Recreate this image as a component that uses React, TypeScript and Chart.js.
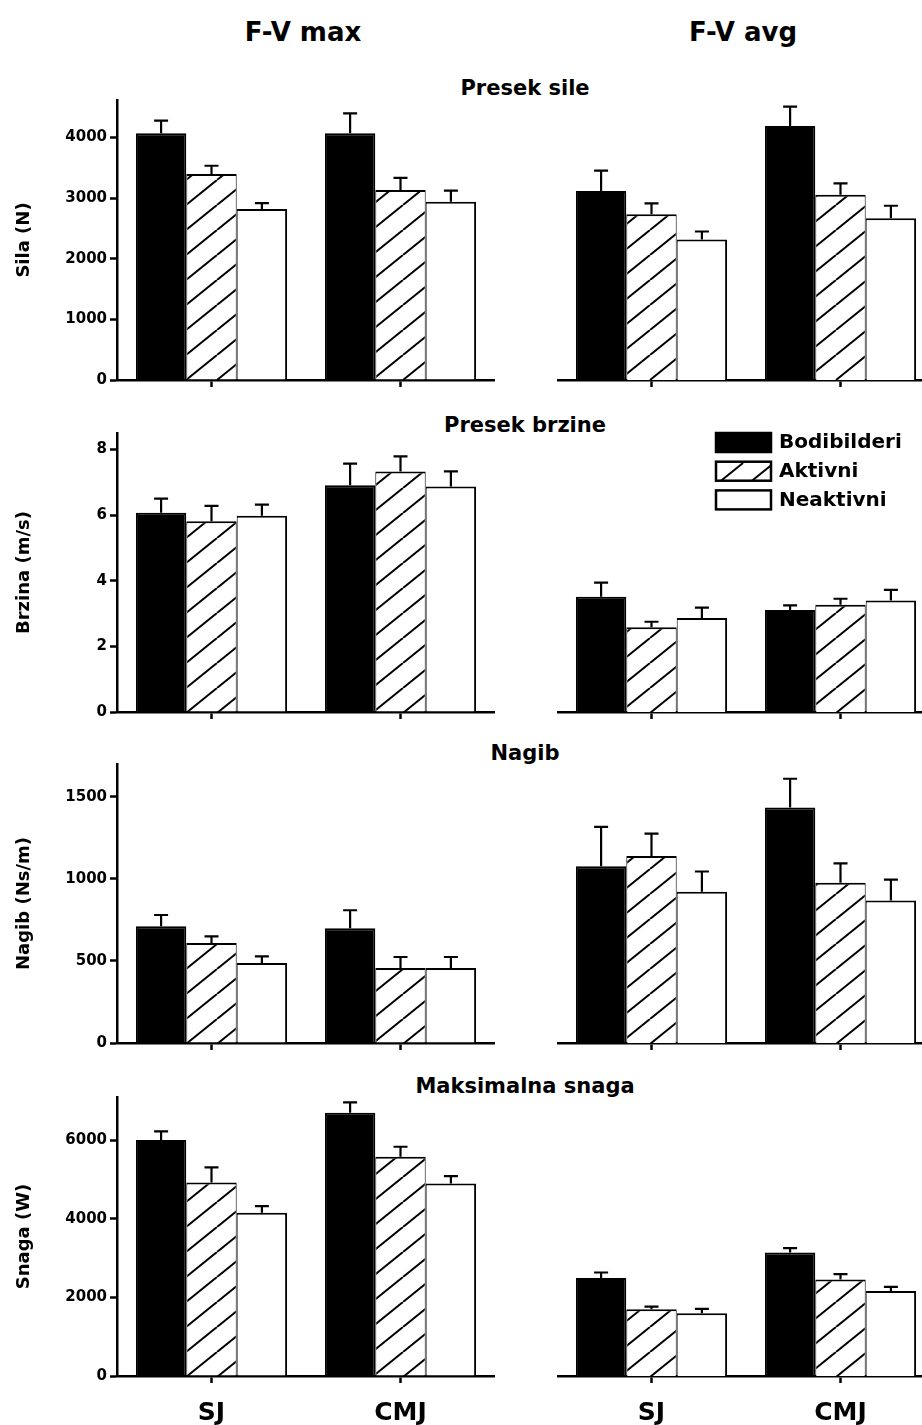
import React, { useEffect, useRef } from 'react';
import { Chart, registerables } from 'chart.js';

Chart.register(...registerables);

// ---------------- data ----------------
const categories = ['SJ', 'CMJ'];
const groups = ['Bodibilderi', 'Aktivni', 'Neaktivni'];
const columnTitles = ['F-V max', 'F-V avg'];
const rowTitles = ['Presek sile', 'Presek brzine', 'Nagib', 'Maksimalna snaga'];
const yAxisTitles = ['Sila (N)', 'Brzina (m/s)', 'Nagib (Ns/m)', 'Snaga (W)'];
const yMax = [4620, 8.5, 1700, 7100];
const silaTicks = [0, 1000, 2000, 3000, 4000];
const brzinaTicks = [0, 2, 4, 6, 8];
const nagibTicks = [0, 500, 1000, 1500];
const snagaTicks = [0, 2000, 4000, 6000];
const yTicks = [silaTicks, brzinaTicks, nagibTicks, snagaTicks];

// rows = groups (Bodibilderi, Aktivni, Neaktivni), columns = categories (SJ, CMJ)
const presekSileMaxMean = [[4070, 4070], [3400, 3135], [2820, 2940]];
const presekSileMaxErr = [[210, 330], [135, 200], [100, 185]];
const presekSileAvgMean = [[3120, 4190], [2735, 3055], [2320, 2670]];
const presekSileAvgErr = [[335, 320], [180, 190], [130, 205]];

const presekBrzineMaxMean = [[6.07, 6.91], [5.81, 7.33], [5.98, 6.87]];
const presekBrzineMaxErr = [[0.43, 0.66], [0.47, 0.46], [0.34, 0.46]];
const presekBrzineAvgMean = [[3.51, 3.11], [2.58, 3.27], [2.86, 3.4]];
const presekBrzineAvgErr = [[0.43, 0.14], [0.17, 0.18], [0.32, 0.32]];

const nagibMaxMean = [[711, 699], [610, 457], [488, 457]];
const nagibMaxErr = [[69, 110], [40, 67], [40, 67]];
const nagibAvgMean = [[1077, 1435], [1140, 976], [921, 868]];
const nagibAvgErr = [[240, 175], [136, 119], [124, 128]];

const snagaMaxMean = [[6005, 6700], [4927, 5580], [4153, 4901]];
const snagaMaxErr = [[221, 265], [382, 254], [170, 187]];
const snagaAvgMean = [[2497, 3144], [1699, 2455], [1597, 2166]];
const snagaAvgErr = [[137, 109], [68, 136], [110, 102]];

const panelMeans = [
  [presekSileMaxMean, presekSileAvgMean],
  [presekBrzineMaxMean, presekBrzineAvgMean],
  [nagibMaxMean, nagibAvgMean],
  [snagaMaxMean, snagaAvgMean],
];
const panelErrs = [
  [presekSileMaxErr, presekSileAvgErr],
  [presekBrzineMaxErr, presekBrzineAvgErr],
  [nagibMaxErr, nagibAvgErr],
  [snagaMaxErr, snagaAvgErr],
];

// ---------------- layout / style ----------------
const FONT = "'DejaVu Sans', 'Liberation Sans', sans-serif";
const PLOT_LEFT = [117, 557];
const PLOT_WIDTH = 378;
const Y_AXIS_W = 117;
const PLOT_TOP = [100, 433, 764, 1097];
const PLOT_H = [280, 279, 279, 279];
const PAD_TOP = 20;
const PAD_BOTTOM = 14;
const LEGEND_DX = 159;
const LEGEND_ROW = 28.7;

function makeHatch(): CanvasPattern | string {
  const w = 31;
  const h = 25;
  const c = document.createElement('canvas');
  c.width = w;
  c.height = h;
  const ctx = c.getContext('2d');
  if (!ctx) return '#ffffff';
  ctx.fillStyle = '#ffffff';
  ctx.fillRect(0, 0, w, h);
  ctx.strokeStyle = '#000000';
  ctx.lineWidth = 2;
  for (const dx of [-w, 0, w]) {
    ctx.beginPath();
    ctx.moveTo(dx, h);
    ctx.lineTo(dx + w, 0);
    ctx.stroke();
  }
  return ctx.createPattern(c, 'repeat') || '#ffffff';
}

const errorBarPlugin = {
  id: 'errorBars',
  afterDatasetsDraw(chart: any) {
    const ctx = chart.ctx;
    const yScale = chart.scales.y;
    chart.data.datasets.forEach((ds: any, i: number) => {
      const meta = chart.getDatasetMeta(i);
      const errs = ds.errors;
      if (!errs) return;
      meta.data.forEach((el: any, j: number) => {
        const v = ds.data[j];
        const yE = yScale.getPixelForValue(v + errs[j]);
        ctx.save();
        ctx.strokeStyle = '#000';
        ctx.lineWidth = 2.2;
        ctx.beginPath();
        ctx.moveTo(el.x, el.y);
        ctx.lineTo(el.x, yE);
        ctx.moveTo(el.x - 7, yE);
        ctx.lineTo(el.x + 7, yE);
        ctx.stroke();
        ctx.restore();
      });
    });
  },
};

const hatchLegendPlugin = {
  id: 'hatchLegend',
  afterDraw(chart: any) {
    const { ctx, chartArea } = chart;
    const x0 = chartArea.left + LEGEND_DX;
    const y0 = chartArea.top;
    chart.data.datasets.forEach((ds: any, i: number) => {
      const y = y0 + i * LEGEND_ROW;
      ctx.save();
      ctx.fillStyle = ds.backgroundColor;
      ctx.fillRect(x0, y, 55, 19);
      ctx.strokeStyle = '#000';
      ctx.lineWidth = 2.5;
      ctx.strokeRect(x0, y, 55, 19);
      ctx.fillStyle = '#000';
      ctx.font = `bold 20px ${FONT}`;
      ctx.textBaseline = 'middle';
      ctx.textAlign = 'left';
      ctx.fillText(ds.label, x0 + 63, y + 10);
      ctx.restore();
    });
  },
};

function Panel({ row, col }: { row: number; col: number }) {
  const ref = useRef<HTMLCanvasElement>(null);
  const isLeft = col === 0;
  const isBottom = row === 3;
  const xH = isBottom ? 49 : 7;
  const padBottom = isBottom ? 0 : PAD_BOTTOM;
  const canvasLeft = isLeft ? 0 : PLOT_LEFT[1];
  const canvasW = isLeft ? PLOT_LEFT[0] + PLOT_WIDTH : PLOT_WIDTH;
  const canvasTop = PLOT_TOP[row] - PAD_TOP;
  const canvasH = PAD_TOP + PLOT_H[row] + xH + padBottom;

  useEffect(() => {
    if (!ref.current) return;
    const hatch = makeHatch();
    const means = panelMeans[row][col];
    const errs = panelErrs[row][col];
    const fills = ['#000000', hatch, '#ffffff'];
    const borders = [
      { top: 2, left: 2, right: 2, bottom: 0 },
      { top: 2, left: 1, right: 1, bottom: 0 },
      { top: 2, left: 1, right: 2, bottom: 0 },
    ];
    const plugins: any[] = [errorBarPlugin];
    if (row === 1 && col === 1) plugins.push(hatchLegendPlugin);
    const chart = new Chart(ref.current, {
      type: 'bar',
      data: {
        labels: categories,
        datasets: groups.map((g, i) => ({
          label: g,
          data: means[i],
          errors: errs[i],
          backgroundColor: fills[i],
          borderColor: '#000000',
          borderWidth: borders[i],
          categoryPercentage: 0.8,
          barPercentage: 1.0,
        })) as any,
      },
      options: {
        responsive: false,
        animation: false,
        devicePixelRatio: 1,
        layout: { padding: { top: PAD_TOP, left: 0, right: 0, bottom: padBottom } },
        plugins: {
          legend: { display: false },
          tooltip: { enabled: false },
          title: { display: false },
        },
        scales: {
          x: {
            type: 'category',
            offset: true,
            grid: {
              display: true,
              drawOnChartArea: false,
              drawTicks: true,
              tickLength: 7,
              tickWidth: 2.5,
              tickColor: '#000',
              offset: false,
            },
            border: { display: true, color: '#000', width: 2.5 },
            ticks: {
              display: isBottom,
              color: '#000',
              font: { family: FONT, size: 25, weight: 'bold' },
              padding: 15,
              maxRotation: 0,
              autoSkip: false,
            },
            afterFit: (s: any) => {
              s.height = xH;
            },
          },
          y: {
            display: isLeft,
            min: 0,
            max: yMax[row],
            afterBuildTicks: (s: any) => {
              s.ticks = yTicks[row].map((v) => ({ value: v }));
            },
            ticks: {
              color: '#000',
              font: { family: FONT, size: 15, weight: 'bold' },
              padding: 3,
              callback: (v: any) => String(v),
            },
            grid: {
              drawOnChartArea: false,
              drawTicks: true,
              tickLength: 7,
              tickWidth: 2.5,
              tickColor: '#000',
            },
            border: { display: true, color: '#000', width: 2.5 },
            title: {
              display: true,
              text: yAxisTitles[row],
              color: '#000',
              font: { family: FONT, size: 18, weight: 'bold' },
              padding: { top: 14, bottom: 0 },
            },
            afterFit: (s: any) => {
              s.width = isLeft ? Y_AXIS_W : 0;
            },
          },
        },
      } as any,
      plugins,
    });
    return () => chart.destroy();
  }, [row, col]);

  return (
    <canvas
      ref={ref}
      width={canvasW}
      height={canvasH}
      style={{ position: 'absolute', left: canvasLeft, top: canvasTop }}
    />
  );
}

function Label({ text, cx, cy, size }: { text: string; cx: number; cy: number; size: number }) {
  return (
    <div
      style={{
        position: 'absolute',
        left: cx,
        top: cy,
        transform: 'translate(-50%, -50%)',
        fontFamily: FONT,
        fontWeight: 'bold',
        fontSize: size,
        lineHeight: 1,
        whiteSpace: 'nowrap',
        color: '#000',
      }}
    >
      {text}
    </div>
  );
}

const columnTitleX = [303, 743];
const rowTitleY = [88, 425, 753, 1086];

export default function App() {
  return (
    <div
      style={{
        position: 'absolute',
        left: 0,
        top: 0,
        width: 922,
        height: 1425,
        overflow: 'hidden',
        background: '#ffffff',
      }}
    >
      {columnTitles.map((t, i) => (
        <Label key={t} text={t} cx={columnTitleX[i]} cy={32} size={26} />
      ))}
      {rowTitles.map((t, i) => (
        <Label key={t} text={t} cx={525} cy={rowTitleY[i]} size={21} />
      ))}
      {[0, 1, 2, 3].map((r) =>
        [0, 1].map((c) => <Panel key={`${r}-${c}`} row={r} col={c} />)
      )}
    </div>
  );
}
